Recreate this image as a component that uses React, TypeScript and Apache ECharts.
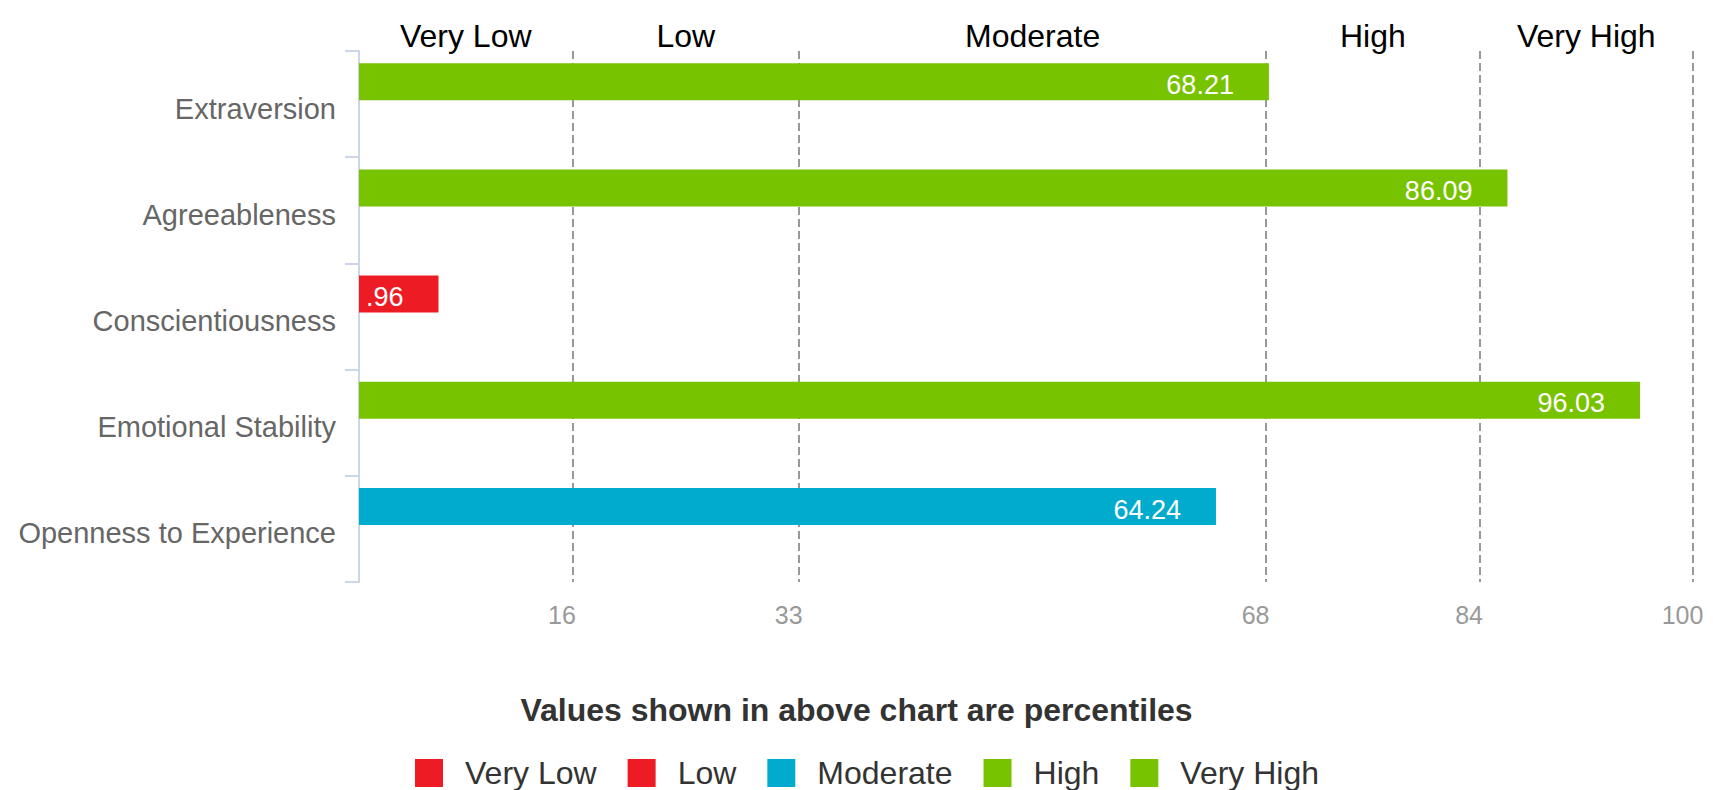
import React, { useEffect, useRef } from "react";
import * as echarts from "echarts";

const categories = [
  "Extraversion",
  "Agreeableness",
  "Conscientiousness",
  "Emotional Stability",
  "Openness to Experience",
];
const scores = [68.21, 86.09, 5.96, 96.03, 64.24];
const levels = ["Very Low", "Low", "Moderate", "High", "Very High"];
const levelColors = ["#ed1c24", "#ed1c24", "#00abcd", "#78c300", "#78c300"];
const bandEdges = [0, 16, 33, 68, 84, 100];
const tickValues = [16, 33, 68, 84, 100];

const W = 1713;
const H = 790;
const GRID_LEFT = 359;
const GRID_RIGHT = 20;
const GRID_TOP = 51;
const GRID_BOTTOM = 208;
const LABEL_DIST = 35;
const LABEL_SIZE = 27;
const FONT = "'Liberation Sans', Arial, Helvetica, sans-serif";

function levelOf(v: number): number {
  for (let i = 0; i < bandEdges.length - 1; i++) {
    if (v >= bandEdges[i] && v < bandEdges[i + 1]) return i;
  }
  return levels.length - 1;
}

function charWidth(c: string): number {
  return (c === "." ? 0.278 : 0.556) * LABEL_SIZE;
}

// emulate the clipping of a label that runs past the plot's left edge
function labelText(v: number): string {
  const pxPerUnit = (W - GRID_LEFT - GRID_RIGHT) / 100;
  const room = v * pxPerUnit - LABEL_DIST + 4;
  let t = v.toFixed(2);
  const width = (s: string) => s.split("").reduce((a, c) => a + charWidth(c), 0);
  while (t.length > 1 && width(t) > room) t = t.slice(1);
  return t;
}

export default function App() {
  const ref = useRef<HTMLDivElement>(null);
  useEffect(() => {
    document.body.style.margin = "0";
    if (!ref.current) return;
    const chart = echarts.init(ref.current, null, { renderer: "svg" });

    const levelSeries = levels.map((name, li) => ({
      name,
      type: "bar",
      stack: "levels",
      barWidth: 37,
      barGap: "21%",
      itemStyle: { color: levelColors[li] },
      label: {
        show: true,
        position: "insideRight",
        distance: LABEL_DIST,
        offset: [0, 3],
        color: "#fff",
        fontSize: LABEL_SIZE,
        fontFamily: FONT,
        formatter: (p: any) => labelText(p.value as number),
      },
      data: scores.map((v) => (levelOf(v) === li ? v : "-")),
    }));

    const padSeries = {
      name: "pad",
      type: "bar",
      stack: "pad",
      barWidth: 37,
      barGap: "21%",
      data: scores.map(() => "-"),
      markLine: {
        silent: true,
        symbol: "none",
        z: 1,
        label: { show: false },
        lineStyle: { color: "#999", width: 2, type: [8, 4] },
        data: tickValues.map((v) => ({ xAxis: v })),
      },
      markArea: {
        silent: true,
        itemStyle: { color: "rgba(0,0,0,0)" },
        label: {
          show: true,
          position: "top",
          distance: -1,
          color: "#000",
          fontSize: 32,
          fontFamily: FONT,
        },
        data: levels.map((name, i) => [
          { name, xAxis: bandEdges[i] },
          { xAxis: bandEdges[i + 1] },
        ]),
      },
    };

    chart.setOption({
      animation: false,
      textStyle: { fontFamily: FONT },
      title: {
        text: "Values shown in above chart are percentiles",
        left: "center",
        top: 694,
        padding: 0,
        textStyle: { fontSize: 32, fontWeight: "bold", color: "#333", fontFamily: FONT },
      },
      legend: {
        data: levels.map((name) => ({ name, icon: "rect" })),
        left: 415,
        top: 757,
        padding: 0,
        itemWidth: 28,
        itemHeight: 28,
        itemGap: 31,
        selectedMode: false,
        textStyle: {
          fontSize: 32,
          color: "#333",
          fontFamily: FONT,
          padding: [0, 0, 0, 17],
        },
      },
      grid: {
        left: GRID_LEFT,
        right: GRID_RIGHT,
        top: GRID_TOP,
        bottom: GRID_BOTTOM,
        containLabel: false,
        outerBoundsMode: "none",
      },
      xAxis: {
        type: "value",
        min: 0,
        max: 100,
        axisLine: { show: false },
        axisTick: { show: false },
        splitLine: { show: false },
        axisLabel: {
          customValues: tickValues,
          color: "#999",
          fontSize: 25,
          fontFamily: FONT,
          margin: 20,
          padding: [0, 21, 0, 0],
        },
      },
      yAxis: {
        type: "category",
        data: categories,
        inverse: true,
        axisLine: { show: true, lineStyle: { color: "#ccd6eb", width: 2 } },
        axisTick: { show: true, length: 14, lineStyle: { color: "#ccd6eb", width: 2 } },
        axisLabel: {
          margin: 23,
          formatter: "{c|{value}}",
          rich: {
            c: {
              color: "#666",
              fontSize: 29,
              fontFamily: FONT,
              padding: [9, 0, 0, 0],
            },
          },
        },
        splitLine: { show: false },
      },
      series: [...levelSeries, padSeries],
    });
    return () => chart.dispose();
  }, []);
  return <div ref={ref} style={{ width: W, height: H }} />;
}
